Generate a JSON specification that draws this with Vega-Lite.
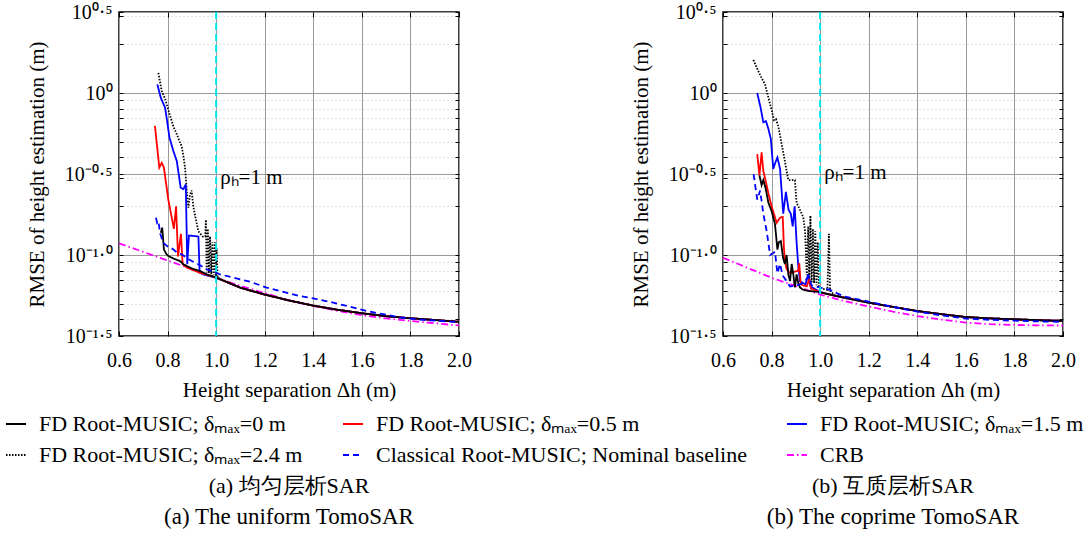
{
 "$schema": "https://vega.github.io/schema/vega-lite/v6.json",
 "padding": {"left": 5, "top": 1, "right": 0, "bottom": 0},
 "background": "white",
 "bounds": "flush",
 "spacing": 264,
 "config": {
  "view": {"stroke": "black", "strokeWidth": 1.5},
  "font": "Liberation Serif",
  "axis": {"domain": false, "labelFont": "Liberation Serif", "labelFontSize": 20, "labelColor": "black", "titleFont": "Liberation Serif", "titleFontSize": 21, "titleFontWeight": "normal", "titleColor": "black", "tickColor": "black", "tickWidth": 1, "labelFlush": false, "labelOverlap": false},
  "title": {"font": "Liberation Serif", "fontSize": 22, "fontWeight": "normal", "color": "black", "subtitleFont": "Liberation Serif", "subtitleFontSize": 23, "subtitleColor": "black", "subtitlePadding": 8, "orient": "bottom", "anchor": "middle", "offset": 76}
 },
 "datasets": {
  "marks": [
   {"p": "a", "x": 1.0, "y": 0.30, "label": "ρₕ=1 m"},
   {"p": "b", "x": 1.0, "y": 0.32, "label": "ρₕ=1 m"}
  ],
  "lines": [
   {"p":"a","s":"crb","x":0.6,"y":0.118},{"p":"a","s":"crb","x":0.7,"y":0.1045},{"p":"a","s":"crb","x":0.8,"y":0.0925},{"p":"a","s":"crb","x":0.9,"y":0.0818},{"p":"a","s":"crb","x":1.0,"y":0.0723},{"p":"a","s":"crb","x":1.1,"y":0.0645},{"p":"a","s":"crb","x":1.2,"y":0.0582},{"p":"a","s":"crb","x":1.3,"y":0.0525},{"p":"a","s":"crb","x":1.4,"y":0.0484},{"p":"a","s":"crb","x":1.5,"y":0.0452},{"p":"a","s":"crb","x":1.6,"y":0.0425},{"p":"a","s":"crb","x":1.7,"y":0.0406},{"p":"a","s":"crb","x":1.8,"y":0.0392},{"p":"a","s":"crb","x":1.9,"y":0.0379},{"p":"a","s":"crb","x":2.0,"y":0.0367},

   {"p":"a","s":"d","x":0.762,"y":1.33},{"p":"a","s":"d","x":0.776,"y":1.03},{"p":"a","s":"d","x":0.79,"y":0.92},{"p":"a","s":"d","x":0.805,"y":0.77},{"p":"a","s":"d","x":0.824,"y":0.62},{"p":"a","s":"d","x":0.838,"y":0.556},{"p":"a","s":"d","x":0.85,"y":0.5},{"p":"a","s":"d","x":0.858,"y":0.47},{"p":"a","s":"d","x":0.866,"y":0.4},{"p":"a","s":"d","x":0.872,"y":0.346},{"p":"a","s":"d","x":0.881,"y":0.23},{"p":"a","s":"d","x":0.886,"y":0.196},{"p":"a","s":"d","x":0.892,"y":0.235},{"p":"a","s":"d","x":0.899,"y":0.25},{"p":"a","s":"d","x":0.906,"y":0.2},{"p":"a","s":"d","x":0.915,"y":0.17},{"p":"a","s":"d","x":0.927,"y":0.14},{"p":"a","s":"d","x":0.945,"y":0.13},{"p":"a","s":"d","x":0.955,"y":0.13},{"p":"a","s":"d","x":0.958,"y":0.165},{"p":"a","s":"d","x":0.961,"y":0.078},{"p":"a","s":"d","x":0.966,"y":0.145},{"p":"a","s":"d","x":0.97,"y":0.077},{"p":"a","s":"d","x":0.975,"y":0.13},{"p":"a","s":"d","x":0.98,"y":0.076},{"p":"a","s":"d","x":0.985,"y":0.12},{"p":"a","s":"d","x":0.99,"y":0.075},{"p":"a","s":"d","x":0.995,"y":0.12},{"p":"a","s":"d","x":0.999,"y":0.074},{"p":"a","s":"d","x":1.002,"y":0.11},{"p":"a","s":"d","x":1.006,"y":0.0725},{"p":"a","s":"d","x":1.05,"y":0.0675},{"p":"a","s":"d","x":1.1,"y":0.0628},{"p":"a","s":"d","x":1.2,"y":0.057},{"p":"a","s":"d","x":1.3,"y":0.0524},{"p":"a","s":"d","x":1.4,"y":0.0487},{"p":"a","s":"d","x":1.5,"y":0.0459},{"p":"a","s":"d","x":1.6,"y":0.0437},{"p":"a","s":"d","x":1.7,"y":0.0419},{"p":"a","s":"d","x":1.8,"y":0.0407},{"p":"a","s":"d","x":1.9,"y":0.0397},{"p":"a","s":"d","x":2.0,"y":0.0387},

   {"p":"a","s":"b","x":0.758,"y":1.13},{"p":"a","s":"b","x":0.772,"y":0.935},{"p":"a","s":"b","x":0.79,"y":0.811},{"p":"a","s":"b","x":0.808,"y":0.53},{"p":"a","s":"b","x":0.824,"y":0.438},{"p":"a","s":"b","x":0.838,"y":0.38},{"p":"a","s":"b","x":0.854,"y":0.26},{"p":"a","s":"b","x":0.865,"y":0.255},{"p":"a","s":"b","x":0.875,"y":0.273},{"p":"a","s":"b","x":0.881,"y":0.0877},{"p":"a","s":"b","x":0.888,"y":0.132},{"p":"a","s":"b","x":0.927,"y":0.13},{"p":"a","s":"b","x":0.932,"y":0.0778},{"p":"a","s":"b","x":0.95,"y":0.0755},{"p":"a","s":"b","x":1.0,"y":0.0725},{"p":"a","s":"b","x":1.05,"y":0.0675},{"p":"a","s":"b","x":1.1,"y":0.0628},{"p":"a","s":"b","x":1.2,"y":0.057},{"p":"a","s":"b","x":1.3,"y":0.0524},{"p":"a","s":"b","x":1.4,"y":0.0487},{"p":"a","s":"b","x":1.5,"y":0.0459},{"p":"a","s":"b","x":1.6,"y":0.0437},{"p":"a","s":"b","x":1.7,"y":0.0419},{"p":"a","s":"b","x":1.8,"y":0.0407},{"p":"a","s":"b","x":1.9,"y":0.0397},{"p":"a","s":"b","x":2.0,"y":0.0387},

   {"p":"a","s":"r","x":0.748,"y":0.626},{"p":"a","s":"r","x":0.766,"y":0.346},{"p":"a","s":"r","x":0.776,"y":0.371},{"p":"a","s":"r","x":0.785,"y":0.346},{"p":"a","s":"r","x":0.803,"y":0.22},{"p":"a","s":"r","x":0.826,"y":0.145},{"p":"a","s":"r","x":0.835,"y":0.2},{"p":"a","s":"r","x":0.843,"y":0.098},{"p":"a","s":"r","x":0.855,"y":0.135},{"p":"a","s":"r","x":0.862,"y":0.088},{"p":"a","s":"r","x":0.88,"y":0.0835},{"p":"a","s":"r","x":0.93,"y":0.078},{"p":"a","s":"r","x":0.97,"y":0.0748},{"p":"a","s":"r","x":1.0,"y":0.0725},{"p":"a","s":"r","x":1.05,"y":0.0675},{"p":"a","s":"r","x":1.1,"y":0.0628},{"p":"a","s":"r","x":1.2,"y":0.057},{"p":"a","s":"r","x":1.3,"y":0.0524},{"p":"a","s":"r","x":1.4,"y":0.0487},{"p":"a","s":"r","x":1.5,"y":0.0459},{"p":"a","s":"r","x":1.6,"y":0.0437},{"p":"a","s":"r","x":1.7,"y":0.0419},{"p":"a","s":"r","x":1.8,"y":0.0407},{"p":"a","s":"r","x":1.9,"y":0.0397},{"p":"a","s":"r","x":2.0,"y":0.0387},

   {"p":"a","s":"k0","x":0.772,"y":0.137},{"p":"a","s":"k0","x":0.778,"y":0.1475},{"p":"a","s":"k0","x":0.785,"y":0.108},{"p":"a","s":"k0","x":0.796,"y":0.101},{"p":"a","s":"k0","x":0.803,"y":0.0986},{"p":"a","s":"k0","x":0.825,"y":0.095},{"p":"a","s":"k0","x":0.851,"y":0.0918},{"p":"a","s":"k0","x":0.865,"y":0.0877},{"p":"a","s":"k0","x":0.879,"y":0.0855},{"p":"a","s":"k0","x":0.905,"y":0.082},{"p":"a","s":"k0","x":0.934,"y":0.0796},{"p":"a","s":"k0","x":0.961,"y":0.076},{"p":"a","s":"k0","x":0.995,"y":0.0731},{"p":"a","s":"k0","x":1.05,"y":0.0675},{"p":"a","s":"k0","x":1.1,"y":0.0628},{"p":"a","s":"k0","x":1.2,"y":0.057},{"p":"a","s":"k0","x":1.3,"y":0.0524},{"p":"a","s":"k0","x":1.4,"y":0.0487},{"p":"a","s":"k0","x":1.5,"y":0.0459},{"p":"a","s":"k0","x":1.6,"y":0.0437},{"p":"a","s":"k0","x":1.7,"y":0.0419},{"p":"a","s":"k0","x":1.8,"y":0.0407},{"p":"a","s":"k0","x":1.9,"y":0.0397},{"p":"a","s":"k0","x":2.0,"y":0.0387},

   {"p":"a","s":"c","x":0.752,"y":0.17},{"p":"a","s":"c","x":0.757,"y":0.158},{"p":"a","s":"c","x":0.762,"y":0.162},{"p":"a","s":"c","x":0.77,"y":0.135},{"p":"a","s":"c","x":0.782,"y":0.119},{"p":"a","s":"c","x":0.8,"y":0.113},{"p":"a","s":"c","x":0.817,"y":0.11},{"p":"a","s":"c","x":0.838,"y":0.104},{"p":"a","s":"c","x":0.858,"y":0.101},{"p":"a","s":"c","x":0.89,"y":0.0935},{"p":"a","s":"c","x":0.934,"y":0.0865},{"p":"a","s":"c","x":0.961,"y":0.0816},{"p":"a","s":"c","x":1.016,"y":0.076},{"p":"a","s":"c","x":1.071,"y":0.0724},{"p":"a","s":"c","x":1.139,"y":0.0685},{"p":"a","s":"c","x":1.208,"y":0.0629},{"p":"a","s":"c","x":1.27,"y":0.0595},{"p":"a","s":"c","x":1.345,"y":0.0558},{"p":"a","s":"c","x":1.4,"y":0.054},{"p":"a","s":"c","x":1.482,"y":0.0508},{"p":"a","s":"c","x":1.55,"y":0.048},{"p":"a","s":"c","x":1.62,"y":0.0451},{"p":"a","s":"c","x":1.7,"y":0.0428},{"p":"a","s":"c","x":1.757,"y":0.0412},{"p":"a","s":"c","x":1.85,"y":0.0398},{"p":"a","s":"c","x":1.92,"y":0.0392},{"p":"a","s":"c","x":2.0,"y":0.0385},

   {"p":"b","s":"crb","x":0.6,"y":0.0962},{"p":"b","s":"crb","x":0.7,"y":0.0834},{"p":"b","s":"crb","x":0.8,"y":0.0724},{"p":"b","s":"crb","x":0.9,"y":0.0643},{"p":"b","s":"crb","x":1.0,"y":0.057},{"p":"b","s":"crb","x":1.1,"y":0.0519},{"p":"b","s":"crb","x":1.2,"y":0.0481},{"p":"b","s":"crb","x":1.3,"y":0.0447},{"p":"b","s":"crb","x":1.4,"y":0.042},{"p":"b","s":"crb","x":1.5,"y":0.0399},{"p":"b","s":"crb","x":1.6,"y":0.0383},{"p":"b","s":"crb","x":1.7,"y":0.0374},{"p":"b","s":"crb","x":1.8,"y":0.037},{"p":"b","s":"crb","x":1.9,"y":0.0368},{"p":"b","s":"crb","x":2.0,"y":0.0367},

   {"p":"b","s":"d","x":0.725,"y":1.6},{"p":"b","s":"d","x":0.745,"y":1.37},{"p":"b","s":"d","x":0.759,"y":1.24},{"p":"b","s":"d","x":0.773,"y":1.13},{"p":"b","s":"d","x":0.787,"y":0.935},{"p":"b","s":"d","x":0.8,"y":0.79},{"p":"b","s":"d","x":0.81,"y":0.68},{"p":"b","s":"d","x":0.818,"y":0.69},{"p":"b","s":"d","x":0.828,"y":0.62},{"p":"b","s":"d","x":0.842,"y":0.48},{"p":"b","s":"d","x":0.852,"y":0.4},{"p":"b","s":"d","x":0.862,"y":0.33},{"p":"b","s":"d","x":0.869,"y":0.29},{"p":"b","s":"d","x":0.883,"y":0.29},{"p":"b","s":"d","x":0.896,"y":0.29},{"p":"b","s":"d","x":0.903,"y":0.21},{"p":"b","s":"d","x":0.917,"y":0.19},{"p":"b","s":"d","x":0.931,"y":0.17},{"p":"b","s":"d","x":0.938,"y":0.14},{"p":"b","s":"d","x":0.945,"y":0.075},{"p":"b","s":"d","x":0.951,"y":0.15},{"p":"b","s":"d","x":0.955,"y":0.07},{"p":"b","s":"d","x":0.96,"y":0.175},{"p":"b","s":"d","x":0.965,"y":0.068},{"p":"b","s":"d","x":0.97,"y":0.145},{"p":"b","s":"d","x":0.975,"y":0.067},{"p":"b","s":"d","x":0.98,"y":0.14},{"p":"b","s":"d","x":0.985,"y":0.065},{"p":"b","s":"d","x":0.99,"y":0.12},{"p":"b","s":"d","x":0.995,"y":0.064},{"p":"b","s":"d","x":1.0,"y":0.063},{"p":"b","s":"d","x":1.01,"y":0.062},{"p":"b","s":"d","x":1.03,"y":0.061},{"p":"b","s":"d","x":1.036,"y":0.135},{"p":"b","s":"d","x":1.041,"y":0.06},{"p":"b","s":"d","x":1.06,"y":0.0565},{"p":"b","s":"d","x":1.1,"y":0.0545},{"p":"b","s":"d","x":1.2,"y":0.0508},{"p":"b","s":"d","x":1.3,"y":0.0478},{"p":"b","s":"d","x":1.4,"y":0.0451},{"p":"b","s":"d","x":1.5,"y":0.0431},{"p":"b","s":"d","x":1.6,"y":0.0414},{"p":"b","s":"d","x":1.7,"y":0.0406},{"p":"b","s":"d","x":1.8,"y":0.0401},{"p":"b","s":"d","x":1.9,"y":0.0396},{"p":"b","s":"d","x":2.0,"y":0.0392},

   {"p":"b","s":"b","x":0.741,"y":1.0},{"p":"b","s":"b","x":0.755,"y":0.81},{"p":"b","s":"b","x":0.766,"y":0.66},{"p":"b","s":"b","x":0.777,"y":0.67},{"p":"b","s":"b","x":0.787,"y":0.6},{"p":"b","s":"b","x":0.797,"y":0.52},{"p":"b","s":"b","x":0.807,"y":0.34},{"p":"b","s":"b","x":0.815,"y":0.37},{"p":"b","s":"b","x":0.824,"y":0.4},{"p":"b","s":"b","x":0.835,"y":0.34},{"p":"b","s":"b","x":0.848,"y":0.18},{"p":"b","s":"b","x":0.859,"y":0.245},{"p":"b","s":"b","x":0.87,"y":0.19},{"p":"b","s":"b","x":0.879,"y":0.18},{"p":"b","s":"b","x":0.887,"y":0.15},{"p":"b","s":"b","x":0.895,"y":0.2},{"p":"b","s":"b","x":0.903,"y":0.12},{"p":"b","s":"b","x":0.91,"y":0.085},{"p":"b","s":"b","x":0.917,"y":0.069},{"p":"b","s":"b","x":0.93,"y":0.067},{"p":"b","s":"b","x":0.94,"y":0.066},{"p":"b","s":"b","x":0.951,"y":0.076},{"p":"b","s":"b","x":0.96,"y":0.064},{"p":"b","s":"b","x":0.975,"y":0.062},{"p":"b","s":"b","x":1.0,"y":0.059},{"p":"b","s":"b","x":1.05,"y":0.0565},{"p":"b","s":"b","x":1.1,"y":0.0545},{"p":"b","s":"b","x":1.2,"y":0.0508},{"p":"b","s":"b","x":1.3,"y":0.0478},{"p":"b","s":"b","x":1.4,"y":0.0451},{"p":"b","s":"b","x":1.5,"y":0.0431},{"p":"b","s":"b","x":1.6,"y":0.0414},{"p":"b","s":"b","x":1.7,"y":0.0406},{"p":"b","s":"b","x":1.8,"y":0.0401},{"p":"b","s":"b","x":1.9,"y":0.0396},{"p":"b","s":"b","x":2.0,"y":0.0392},

   {"p":"b","s":"r","x":0.741,"y":0.42},{"p":"b","s":"r","x":0.75,"y":0.31},{"p":"b","s":"r","x":0.759,"y":0.43},{"p":"b","s":"r","x":0.766,"y":0.33},{"p":"b","s":"r","x":0.775,"y":0.29},{"p":"b","s":"r","x":0.787,"y":0.24},{"p":"b","s":"r","x":0.8,"y":0.2},{"p":"b","s":"r","x":0.812,"y":0.175},{"p":"b","s":"r","x":0.821,"y":0.158},{"p":"b","s":"r","x":0.835,"y":0.17},{"p":"b","s":"r","x":0.846,"y":0.172},{"p":"b","s":"r","x":0.851,"y":0.11},{"p":"b","s":"r","x":0.855,"y":0.092},{"p":"b","s":"r","x":0.862,"y":0.082},{"p":"b","s":"r","x":0.873,"y":0.078},{"p":"b","s":"r","x":0.885,"y":0.078},{"p":"b","s":"r","x":0.897,"y":0.079},{"p":"b","s":"r","x":0.91,"y":0.08},{"p":"b","s":"r","x":0.914,"y":0.089},{"p":"b","s":"r","x":0.92,"y":0.066},{"p":"b","s":"r","x":0.93,"y":0.065},{"p":"b","s":"r","x":0.945,"y":0.064},{"p":"b","s":"r","x":0.955,"y":0.071},{"p":"b","s":"r","x":0.962,"y":0.062},{"p":"b","s":"r","x":1.0,"y":0.059},{"p":"b","s":"r","x":1.05,"y":0.0565},{"p":"b","s":"r","x":1.1,"y":0.0545},{"p":"b","s":"r","x":1.2,"y":0.0508},{"p":"b","s":"r","x":1.3,"y":0.0478},{"p":"b","s":"r","x":1.4,"y":0.0451},{"p":"b","s":"r","x":1.5,"y":0.0431},{"p":"b","s":"r","x":1.6,"y":0.0414},{"p":"b","s":"r","x":1.7,"y":0.0406},{"p":"b","s":"r","x":1.8,"y":0.0401},{"p":"b","s":"r","x":1.9,"y":0.0396},{"p":"b","s":"r","x":2.0,"y":0.0392},

   {"p":"b","s":"k0","x":0.75,"y":0.31},{"p":"b","s":"k0","x":0.759,"y":0.27},{"p":"b","s":"k0","x":0.766,"y":0.29},{"p":"b","s":"k0","x":0.775,"y":0.26},{"p":"b","s":"k0","x":0.787,"y":0.21},{"p":"b","s":"k0","x":0.8,"y":0.187},{"p":"b","s":"k0","x":0.814,"y":0.155},{"p":"b","s":"k0","x":0.824,"y":0.108},{"p":"b","s":"k0","x":0.83,"y":0.12},{"p":"b","s":"k0","x":0.838,"y":0.122},{"p":"b","s":"k0","x":0.848,"y":0.095},{"p":"b","s":"k0","x":0.855,"y":0.088},{"p":"b","s":"k0","x":0.862,"y":0.1},{"p":"b","s":"k0","x":0.869,"y":0.076},{"p":"b","s":"k0","x":0.876,"y":0.069},{"p":"b","s":"k0","x":0.883,"y":0.088},{"p":"b","s":"k0","x":0.89,"y":0.075},{"p":"b","s":"k0","x":0.896,"y":0.063},{"p":"b","s":"k0","x":0.903,"y":0.076},{"p":"b","s":"k0","x":0.91,"y":0.067},{"p":"b","s":"k0","x":0.917,"y":0.063},{"p":"b","s":"k0","x":0.93,"y":0.061},{"p":"b","s":"k0","x":0.95,"y":0.06},{"p":"b","s":"k0","x":1.0,"y":0.059},{"p":"b","s":"k0","x":1.05,"y":0.0565},{"p":"b","s":"k0","x":1.1,"y":0.0545},{"p":"b","s":"k0","x":1.2,"y":0.0508},{"p":"b","s":"k0","x":1.3,"y":0.0478},{"p":"b","s":"k0","x":1.4,"y":0.0451},{"p":"b","s":"k0","x":1.5,"y":0.0431},{"p":"b","s":"k0","x":1.6,"y":0.0414},{"p":"b","s":"k0","x":1.7,"y":0.0406},{"p":"b","s":"k0","x":1.8,"y":0.0401},{"p":"b","s":"k0","x":1.9,"y":0.0396},{"p":"b","s":"k0","x":2.0,"y":0.0392},

   {"p":"b","s":"c","x":0.726,"y":0.315},{"p":"b","s":"c","x":0.741,"y":0.22},{"p":"b","s":"c","x":0.753,"y":0.25},{"p":"b","s":"c","x":0.766,"y":0.18},{"p":"b","s":"c","x":0.78,"y":0.14},{"p":"b","s":"c","x":0.794,"y":0.1},{"p":"b","s":"c","x":0.807,"y":0.103},{"p":"b","s":"c","x":0.814,"y":0.105},{"p":"b","s":"c","x":0.824,"y":0.077},{"p":"b","s":"c","x":0.835,"y":0.088},{"p":"b","s":"c","x":0.845,"y":0.075},{"p":"b","s":"c","x":0.862,"y":0.069},{"p":"b","s":"c","x":0.876,"y":0.064},{"p":"b","s":"c","x":0.9,"y":0.065},{"p":"b","s":"c","x":0.92,"y":0.066},{"p":"b","s":"c","x":0.938,"y":0.069},{"p":"b","s":"c","x":0.951,"y":0.074},{"p":"b","s":"c","x":0.965,"y":0.065},{"p":"b","s":"c","x":0.98,"y":0.064},{"p":"b","s":"c","x":1.0,"y":0.063},{"p":"b","s":"c","x":1.04,"y":0.061},{"p":"b","s":"c","x":1.07,"y":0.058},{"p":"b","s":"c","x":1.1,"y":0.0555},{"p":"b","s":"c","x":1.15,"y":0.0535},{"p":"b","s":"c","x":1.2,"y":0.0515},{"p":"b","s":"c","x":1.3,"y":0.0478},{"p":"b","s":"c","x":1.4,"y":0.0447},{"p":"b","s":"c","x":1.5,"y":0.0424},{"p":"b","s":"c","x":1.6,"y":0.0405},{"p":"b","s":"c","x":1.7,"y":0.0398},{"p":"b","s":"c","x":1.8,"y":0.0393},{"p":"b","s":"c","x":1.9,"y":0.0389},{"p":"b","s":"c","x":2.0,"y":0.0387}
  ]
 },
 "hconcat": [
  {
   "width": 340, "height": 324,
   "title": {"text": "(a) 均匀层析SAR", "subtitle": "(a) The uniform TomoSAR"},
   "resolve": {"axis": {"x": "independent", "y": "independent"}},
   "layer": [
    {
     "data": {"name": "lines"},
     "transform": [{"filter": "datum.p == 'a'"}],
     "mark": {"type": "line", "clip": true},
     "encoding": {
      "x": {"field": "x", "type": "quantitative", "scale": {"domain": [0.6, 2.0], "nice": false, "zero": false}, "axis": {"values": [0.6, 0.8, 1.0, 1.2, 1.4, 1.6, 1.8, 2.0], "format": ".1f", "grid": true, "gridColor": "#9a9a9a", "gridWidth": 1, "tickSize": -5, "labelPadding": 19, "title": "Height separation Δh (m)", "titlePadding": 9}},
      "y": {"field": "y", "type": "quantitative", "scale": {"type": "log", "domain": [0.0316228, 3.16228], "nice": false}, "axis": {"values": [0.0316228, 0.04, 0.05, 0.06, 0.07, 0.08, 0.09, 0.1, 0.2, 0.3, 0.316228, 0.4, 0.5, 0.6, 0.7, 0.8, 0.9, 1, 2, 3, 3.16228], "labelExpr": "abs(datum.value-3.16228)<0.01 ? '10⁰·⁵' : abs(datum.value-1)<0.001 ? '10⁰' : abs(datum.value-0.316228)<0.001 ? '10⁻⁰·⁵' : abs(datum.value-0.1)<0.0001 ? '10⁻¹·⁰' : abs(datum.value-0.0316228)<0.0001 ? '10⁻¹·⁵' : ''", "grid": true, "gridDash": {"condition": {"test": "abs(log(datum.value)/LN10*2 - round(log(datum.value)/LN10*2)) < 0.01", "value": []}, "value": [1, 3]}, "gridColor": {"condition": {"test": "abs(log(datum.value)/LN10*2 - round(log(datum.value)/LN10*2)) < 0.01", "value": "#9a9a9a"}, "value": "#c8c8c8"}, "tickSize": -4, "labelPadding": 11, "title": "RMSE of height estimation (m)", "titlePadding": 17}},
      "color": {"field": "s", "type": "nominal", "scale": {"domain": ["k0", "r", "b", "d", "c", "crb"], "range": ["#000000", "#ff0000", "#0000ff", "#000000", "#0000ff", "#ff00ff"]}, "legend": {"title": null, "orient": "none", "direction": "horizontal", "legendX": -114, "legendY": 401, "columns": 3, "columnPadding": 36, "rowPadding": 9, "symbolType": "stroke", "symbolSize": 400, "labelFont": "Liberation Serif", "labelFontSize": 22, "labelLimit": 700, "labelOffset": 12, "labelColor": "black", "padding": 0, "labelExpr": "datum.label == 'k0' ? 'FD Root-MUSIC; δₘₐₓ=0 m' : datum.label == 'r' ? 'FD Root-MUSIC; δₘₐₓ=0.5 m' : datum.label == 'b' ? 'FD Root-MUSIC; δₘₐₓ=1.5 m' : datum.label == 'd' ? 'FD Root-MUSIC; δₘₐₓ=2.4 m' : datum.label == 'c' ? 'Classical Root-MUSIC; Nominal baseline' : 'CRB'"}},
      "strokeDash": {"field": "s", "type": "nominal", "scale": {"domain": ["k0", "r", "b", "d", "c", "crb"], "range": [[1, 0], [1, 0], [1, 0], [1.5, 1.5], [6, 4], [7, 3, 1.5, 3]]}, "legend": {"title": null, "orient": "none", "direction": "horizontal", "legendX": -114, "legendY": 401, "columns": 3}},
      "strokeWidth": {"field": "s", "type": "nominal", "scale": {"domain": ["k0", "r", "b", "d", "c", "crb"], "range": [1.8, 1.8, 1.8, 1.6, 2.2, 1.7]}, "legend": {"title": null, "orient": "none", "direction": "horizontal", "legendX": -114, "legendY": 401, "columns": 3}}
     }
    },
    {
     "data": {"name": "marks"},
     "transform": [{"filter": "datum.p == 'a'"}],
     "mark": {"type": "rule", "color": "#00e5f0", "strokeDash": [7, 4], "strokeWidth": 2},
     "encoding": {"x": {"field": "x", "type": "quantitative", "scale": {"domain": [0.6, 2.0], "nice": false, "zero": false}, "axis": {"orient": "top", "values": [0.6, 0.8, 1.0, 1.2, 1.4, 1.6, 1.8, 2.0], "labels": false, "grid": false, "domain": false, "tickSize": -5, "title": null}}}
    },
    {
     "data": {"name": "marks"},
     "transform": [{"filter": "datum.p == 'a'"}],
     "mark": {"type": "text", "align": "left", "baseline": "middle", "dx": 4, "fontSize": 21, "font": "Liberation Serif", "color": "black"},
     "encoding": {
      "x": {"field": "x", "type": "quantitative", "scale": {"domain": [0.6, 2.0], "nice": false, "zero": false}, "axis": null},
      "y": {"field": "y", "type": "quantitative", "scale": {"type": "log", "domain": [0.0316228, 3.16228], "nice": false}, "axis": {"orient": "right", "values": [0.0316228, 0.04, 0.05, 0.06, 0.07, 0.08, 0.09, 0.1, 0.2, 0.3, 0.316228, 0.4, 0.5, 0.6, 0.7, 0.8, 0.9, 1, 2, 3, 3.16228], "labels": false, "grid": false, "domain": false, "tickSize": -4, "title": null}},
      "text": {"field": "label"}
     }
    }
   ]
  },
  {
   "width": 340, "height": 324,
   "title": {"text": "(b) 互质层析SAR", "subtitle": "(b) The coprime TomoSAR"},
   "resolve": {"axis": {"x": "independent", "y": "independent"}},
   "layer": [
    {
     "data": {"name": "lines"},
     "transform": [{"filter": "datum.p == 'b'"}],
     "mark": {"type": "line", "clip": true},
     "encoding": {
      "x": {"field": "x", "type": "quantitative", "scale": {"domain": [0.6, 2.0], "nice": false, "zero": false}, "axis": {"values": [0.6, 0.8, 1.0, 1.2, 1.4, 1.6, 1.8, 2.0], "format": ".1f", "grid": true, "gridColor": "#9a9a9a", "gridWidth": 1, "tickSize": -5, "labelPadding": 19, "title": "Height separation Δh (m)", "titlePadding": 9}},
      "y": {"field": "y", "type": "quantitative", "scale": {"type": "log", "domain": [0.0316228, 3.16228], "nice": false}, "axis": {"values": [0.0316228, 0.04, 0.05, 0.06, 0.07, 0.08, 0.09, 0.1, 0.2, 0.3, 0.316228, 0.4, 0.5, 0.6, 0.7, 0.8, 0.9, 1, 2, 3, 3.16228], "labelExpr": "abs(datum.value-3.16228)<0.01 ? '10⁰·⁵' : abs(datum.value-1)<0.001 ? '10⁰' : abs(datum.value-0.316228)<0.001 ? '10⁻⁰·⁵' : abs(datum.value-0.1)<0.0001 ? '10⁻¹·⁰' : abs(datum.value-0.0316228)<0.0001 ? '10⁻¹·⁵' : ''", "grid": true, "gridDash": {"condition": {"test": "abs(log(datum.value)/LN10*2 - round(log(datum.value)/LN10*2)) < 0.01", "value": []}, "value": [1, 3]}, "gridColor": {"condition": {"test": "abs(log(datum.value)/LN10*2 - round(log(datum.value)/LN10*2)) < 0.01", "value": "#9a9a9a"}, "value": "#c8c8c8"}, "tickSize": -4, "labelPadding": 11, "title": "RMSE of height estimation (m)", "titlePadding": 17}},
      "color": {"field": "s", "type": "nominal", "scale": {"domain": ["k0", "r", "b", "d", "c", "crb"], "range": ["#000000", "#ff0000", "#0000ff", "#000000", "#0000ff", "#ff00ff"]}, "legend": {"title": null, "orient": "none", "direction": "horizontal", "legendX": -114, "legendY": 401, "columns": 3, "columnPadding": 36, "rowPadding": 9, "symbolType": "stroke", "symbolSize": 400, "labelFont": "Liberation Serif", "labelFontSize": 22, "labelLimit": 700, "labelOffset": 12, "labelColor": "black", "padding": 0, "labelExpr": "datum.label == 'k0' ? 'FD Root-MUSIC; δₘₐₓ=0 m' : datum.label == 'r' ? 'FD Root-MUSIC; δₘₐₓ=0.5 m' : datum.label == 'b' ? 'FD Root-MUSIC; δₘₐₓ=1.5 m' : datum.label == 'd' ? 'FD Root-MUSIC; δₘₐₓ=2.4 m' : datum.label == 'c' ? 'Classical Root-MUSIC; Nominal baseline' : 'CRB'"}},
      "strokeDash": {"field": "s", "type": "nominal", "scale": {"domain": ["k0", "r", "b", "d", "c", "crb"], "range": [[1, 0], [1, 0], [1, 0], [1.5, 1.5], [6, 4], [7, 3, 1.5, 3]]}, "legend": {"title": null, "orient": "none", "direction": "horizontal", "legendX": -114, "legendY": 401, "columns": 3}},
      "strokeWidth": {"field": "s", "type": "nominal", "scale": {"domain": ["k0", "r", "b", "d", "c", "crb"], "range": [1.8, 1.8, 1.8, 1.6, 2.2, 1.7]}, "legend": {"title": null, "orient": "none", "direction": "horizontal", "legendX": -114, "legendY": 401, "columns": 3}}
     }
    },
    {
     "data": {"name": "marks"},
     "transform": [{"filter": "datum.p == 'b'"}],
     "mark": {"type": "rule", "color": "#00e5f0", "strokeDash": [7, 4], "strokeWidth": 2},
     "encoding": {"x": {"field": "x", "type": "quantitative", "scale": {"domain": [0.6, 2.0], "nice": false, "zero": false}, "axis": {"orient": "top", "values": [0.6, 0.8, 1.0, 1.2, 1.4, 1.6, 1.8, 2.0], "labels": false, "grid": false, "domain": false, "tickSize": -5, "title": null}}}
    },
    {
     "data": {"name": "marks"},
     "transform": [{"filter": "datum.p == 'b'"}],
     "mark": {"type": "text", "align": "left", "baseline": "middle", "dx": 4, "fontSize": 21, "font": "Liberation Serif", "color": "black"},
     "encoding": {
      "x": {"field": "x", "type": "quantitative", "scale": {"domain": [0.6, 2.0], "nice": false, "zero": false}, "axis": null},
      "y": {"field": "y", "type": "quantitative", "scale": {"type": "log", "domain": [0.0316228, 3.16228], "nice": false}, "axis": {"orient": "right", "values": [0.0316228, 0.04, 0.05, 0.06, 0.07, 0.08, 0.09, 0.1, 0.2, 0.3, 0.316228, 0.4, 0.5, 0.6, 0.7, 0.8, 0.9, 1, 2, 3, 3.16228], "labels": false, "grid": false, "domain": false, "tickSize": -4, "title": null}},
      "text": {"field": "label"}
     }
    }
   ]
  }
 ]
}
